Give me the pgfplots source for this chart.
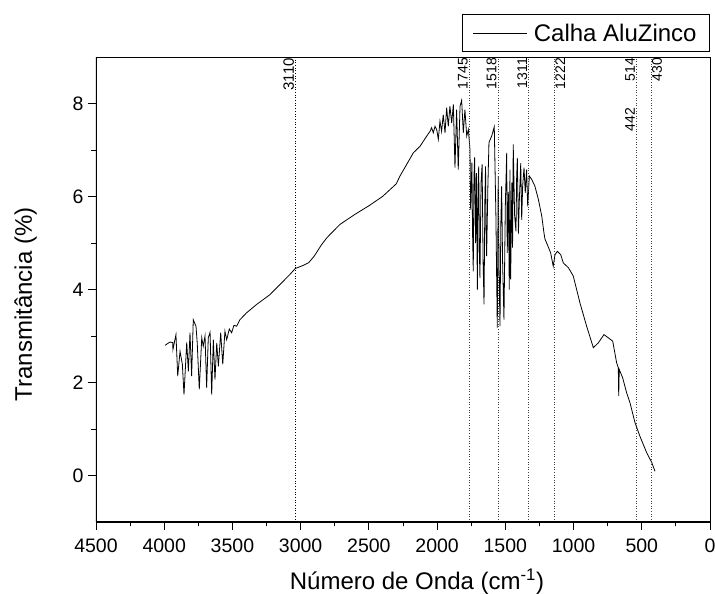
\documentclass[border=0pt]{standalone}
\usepackage{pgfplots}
\pgfplotsset{compat=1.18}
\usepackage{fontspec}
\setmainfont{Liberation Sans}
\pgfplotstableread{
x y
3994 2.80
3958 2.87
3938 2.86
3936 2.71
3914 3.03
3901 2.14
3884 2.67
3867 2.39
3855 1.74
3835 2.86
3823 2.24
3811 3.07
3799 2.14
3787 3.35
3767 3.21
3758 2.85
3743 1.85
3725 2.96
3714 2.78
3701 3.00
3689 1.89
3677 2.96
3664 3.08
3652 1.74
3640 2.92
3628 2.06
3615 2.85
3603 2.35
3586 3.07
3571 2.39
3555 3.10
3542 2.92
3523 3.15
3506 3.07
3489 3.23
3469 3.21
3445 3.35
3396 3.50
3322 3.68
3225 3.89
3127 4.18
3080 4.32
3040 4.45
2980 4.52
2940 4.58
2900 4.72
2850 4.95
2809 5.11
2712 5.40
2600 5.62
2500 5.80
2400 6.00
2300 6.27
2272 6.44
2223 6.69
2174 6.94
2125 7.08
2076 7.30
2052 7.40
2040 7.48
2028 7.37
2015 7.51
2003 7.44
1991 7.23
1979 7.62
1967 7.40
1955 7.76
1942 7.37
1930 7.91
1918 7.51
1906 7.94
1893 7.58
1881 7.98
1869 6.62
1857 7.87
1845 6.58
1832 7.94
1820 8.07
1808 7.37
1796 7.87
1783 7.30
1771 7.44
1759 7.01
1754 5.72
1745 6.73
1740 5.20
1735 4.39
1730 6.40
1725 6.84
1718 5.00
1712 6.50
1705 4.00
1700 6.20
1695 6.65
1690 4.80
1686 4.25
1678 6.30
1670 6.69
1663 4.60
1656 3.68
1650 5.90
1645 6.65
1640 5.10
1637 4.72
1628 6.20
1620 7.16
1600 7.30
1581 7.50
1569 5.58
1559 3.18
1552 6.44
1545 4.20
1539 3.21
1533 5.40
1527 6.22
1520 4.60
1510 3.35
1500 5.80
1490 6.94
1486 4.79
1478 6.10
1471 4.00
1466 6.58
1461 4.22
1452 6.30
1447 4.90
1442 7.12
1432 5.60
1422 5.25
1417 6.40
1412 6.83
1404 5.20
1397 5.94
1387 6.72
1380 5.50
1373 6.22
1363 6.62
1354 6.08
1344 6.58
1336 5.79
1324 6.44
1307 6.37
1283 6.22
1258 5.94
1233 5.58
1217 5.22
1209 5.08
1197 5.00
1168 4.79
1149 4.50
1136 4.75
1119 4.82
1094 4.75
1075 4.57
1038 4.47
1002 4.29
953 3.71
904 3.21
855 2.75
819 2.85
777 3.03
745 2.96
713 2.89
684 2.42
672 2.32
669 1.71
665 2.28
640 2.10
611 1.78
586 1.56
550 1.14
513 0.84
464 0.49
427 0.28
403 0.09
}\spectrum
\begin{document}
\begin{tikzpicture}
\begin{axis}[
  scale only axis,
  width=614pt, height=465pt,
  xmin=0, xmax=4500, x dir=reverse,
  ymin=-1, ymax=9,
  xtick={0,500,...,4500},
  ytick={0,2,4,6,8},
  minor x tick num=1,
  minor y tick num=1,
  xtick pos=bottom, ytick pos=left,
  tick align=outside,
  major tick length=8pt,
  minor tick length=4.5pt,
  tick style={black, line width=0.9pt},
  axis line style={line width=0.8pt},
  scaled ticks=false,
  /pgf/number format/1000 sep={},
  /pgf/number format/assume math mode=true,
  xticklabel={\fontsize{19.5}{22}\selectfont\pgfmathprintnumber{\tick}},
  yticklabel={\fontsize{19.5}{22}\selectfont\pgfmathprintnumber{\tick}},
  xticklabel style={yshift=-5pt},
  yticklabel style={xshift=-1pt},
  xlabel={Número de Onda (cm\textsuperscript{-1})},
  ylabel={Transmitância (\%)},
  xlabel style={at={(axis description cs:0.5228,-0.1462)}, anchor=base, inner sep=0pt},
  ylabel style={at={(axis description cs:-0.0961,0.4677)}, rotate=0, anchor=south, inner sep=0pt},
  label style={font=\fontsize{24}{28}\selectfont},
  legend style={at={(1,1)}, anchor=south east, yshift=5pt, draw=black, line width=0.8pt,
    font=\fontsize{24}{28}\selectfont, inner xsep=11pt, inner ysep=7pt, column sep=4pt},
  legend cell align=left,
  legend image code/.code={\draw[#1] (0pt,0pt) -- (54pt,0pt);},
]
\addplot[black, line width=0.8pt] table[x=x,y=y] {\spectrum};
\addlegendentry{Calha AluZinco}
\addplot[black, dotted, line width=0.7pt, forget plot] coordinates {(3040,-1) (3040,9)};
\pgfplotsinvokeforeach{1766,1555,1331,1143,541,433}{
  \addplot[black!75, dotted, line width=0.6pt, forget plot] coordinates {(#1,-1) (#1,9)};
}
\begin{scope}[every node/.style={rotate=90, font=\fontsize{14}{16}\selectfont, inner sep=1pt}]
\node[anchor=south east, font=\fontsize{15}{17}\selectfont] at (axis cs:3040,9) {3110};
\node[anchor=south east] at (axis cs:1766,9) {1745};
\node[anchor=south east] at (axis cs:1555,9) {1518};
\node[anchor=south east] at (axis cs:1331,9) {1311};
\node[anchor=north east] at (axis cs:1143,9) {1222};
\node[anchor=south east] at (axis cs:541,9) {514};
\node[anchor=south east] at (axis cs:541,7.93) {442};
\node[anchor=north east] at (axis cs:433,9) {430};
\end{scope}
\draw[line width=1.6pt] (rel axis cs:0,1) -- (rel axis cs:0,0) -- (rel axis cs:1,0);
\end{axis}
\pgfresetboundingbox
\useasboundingbox ([shift={(-96pt,-72pt)}]current axis.south west) rectangle ([shift={(5pt,57pt)}]current axis.north east);
\end{tikzpicture}
\end{document}
